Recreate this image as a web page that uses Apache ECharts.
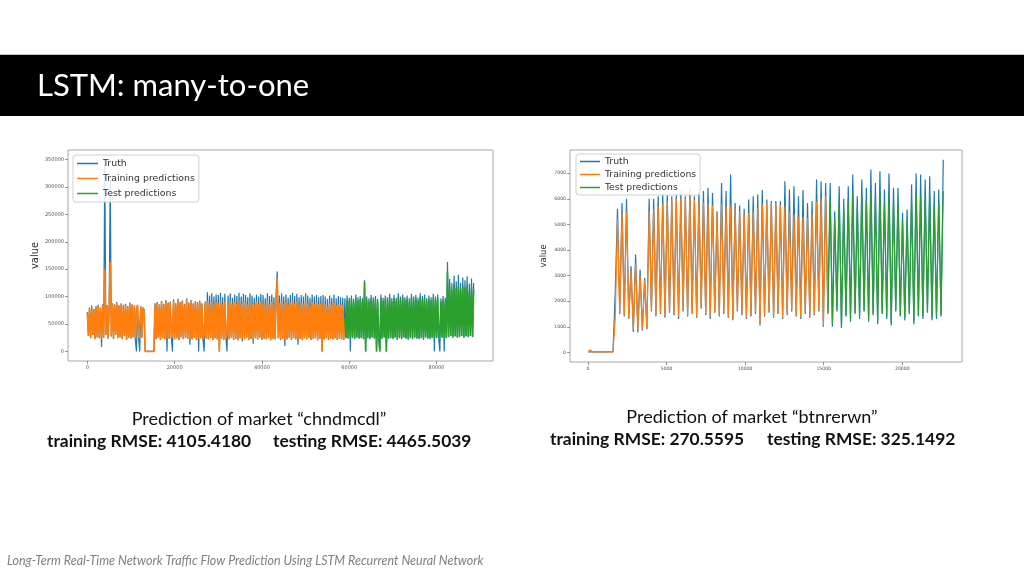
<!DOCTYPE html>
<html><head><meta charset="utf-8">
<script src="https://cdn.jsdelivr.net/npm/echarts@6/dist/echarts.min.js"></script>
<style>html,body{margin:0;padding:0;background:#fff}#c{width:1024px;height:576px}</style>
</head><body><div id="c"></div>
<script>
// ---------- data: market "chndmcdl" (values in thousands, one sample every 250 steps) ----------
const UNIT_LEFT = 1000;
const leftStep = 250;
const leftTruth = [
72,28,80,24,84,30,78,22,83,26,85,24,80,8,86,25,350,30,84,23,
82,320,27,88,22,86,30,90,24,84,26,88,22,85,28,87,21,83,25,89,
23,86,26,84,22,0,85,24,0,83,25,80,76,0,0,0,0,0,0,0,
0,0,88,22,90,25,86,21,92,24,87,22,94,0,89,23,91,25,0,95,
22,88,24,96,21,90,26,93,22,87,25,97,23,89,12,94,22,88,25,92,
21,90,0,93,24,88,22,0,91,23,108,22,102,25,106,21,100,24,104,22,
103,0,107,23,99,21,105,24,0,102,22,106,25,98,21,104,23,101,20,107,
24,100,18,105,22,103,25,99,21,106,23,102,14,98,24,104,22,100,25,105,
21,103,23,97,22,106,24,101,20,104,23,99,22,105,146,24,102,21,106,23,
100,10,104,22,98,25,103,21,107,24,101,22,105,12,99,23,103,21,100,24,
106,22,102,25,98,21,104,23,100,24,103,20,99,23,101,0,103,22,100,24,
96,21,102,23,98,22,104,24,97,21,101,23,99,22,98,21,97,24,102,23,
98,0,102,24,96,22,104,25,99,23,101,24,97,22,130,0,100,24,97,22,
103,25,99,23,101,0,96,24,0,104,22,98,25,102,0,99,23,105,24,97,
22,103,25,98,21,106,24,100,22,104,25,99,23,102,21,97,24,105,22,100,
25,103,23,98,22,106,24,101,21,104,25,97,23,102,22,99,24,105,0,100,
24,104,22,0,97,25,101,0,98,24,163,26,132,28,125,25,138,27,128,25,
140,26,125,28,135,25,130,27,137,26,124,28,133,26,125
];
const leftTrain = [
70,28,78,25,82,30,77,23,81,26,83,25,79,22,84,25,150,30,82,24,
80,163,28,86,23,84,30,88,25,83,26,86,23,84,28,85,22,82,25,87,
24,84,26,83,23,80,84,24,22,82,25,79,74,0,0,0,0,0,0,0,
0,0,86,23,88,25,85,22,90,24,86,23,92,23,87,23,89,25,30,93,
22,86,24,95,22,88,26,91,23,85,25,96,23,87,22,92,22,86,25,90,
22,88,23,91,24,86,22,30,89,23,92,22,87,25,90,22,86,24,91,22,
88,0,92,23,85,22,90,24,30,88,22,92,25,85,22,90,23,87,21,93,
24,86,22,91,22,88,25,85,22,92,23,87,22,84,24,90,22,86,25,91,
22,88,23,84,22,92,24,87,21,90,23,85,22,91,134,24,88,22,92,23,
86,22,90,22,85,25,89,22,93,24,87,22,91,22,85,23,89,22,86,24,
92,22,88,25,84,22,90,23,86,24,89,21,85,23,87,0,89,22,86,24,
83,22,88,23,85,22,90,24,84,22,87,23,85,22,84,22,60
];
const leftTestStart = 236;
const leftTest = [
60,25,94,24,
92,25,96,25,90,24,98,26,93,24,95,25,91,24,127,0,94,25,91,24,
97,26,93,24,95,0,90,25,0,98,24,92,26,96,0,93,24,99,25,91,
24,97,26,92,23,100,25,94,24,98,26,93,24,96,23,91,25,99,24,94,
26,97,24,92,24,100,25,95,23,98,26,91,24,96,24,93,25,99,26,94,
25,98,24,35,91,26,95,25,92,25,145,27,118,28,112,26,122,28,115,26,
120,27,112,28,119,26,116,28,121,27,110,28,118,27,112
];
const leftXTicks = [0,20000,40000,60000,80000];
const leftYTicks = [0,50000,100000,150000,200000,250000,300000,350000];

// ---------- data: market "btnrerwn" (one sample every 144 steps) ----------
const rightStep = 144;
const rightTruth = [
20,20,20,20,20,20,20,20,20,20,20,20,2300,
5610,1500,5840,1400,6000,1300,3360,800,3820,780,3230,850,2900,900,
6000,1600,6000,1400,6100,1500,6170,1350,6170,1550,6100,1450,6170,1300,6300,1600,
6100,1400,6430,1500,6100,1350,6260,1700,6300,1450,6430,1300,6230,1550,5510,1400,
6620,1500,6300,1350,6950,1250,5840,1600,5740,1450,5610,1300,5970,1400,6100,1500,
6170,1050,6340,1400,5970,1550,5910,1350,5910,1500,5910,1300,6690,1450,6360,1600,
6490,1400,6100,1300,6340,1500,5840,1350,5910,1450,6750,1600,6690,1000,6620,1500,
6620,1000,5510,1600,6490,950,6000,1400,6490,1200,6950,1500,6100,1300,6750,1600,
6430,1200,7140,1450,6620,1100,7080,1500,6360,1300,6990,1050,6430,1600,6430,1400,
5450,1250,5580,1500,6560,1100,6990,1400,6950,1300,6750,1550,6880,1250,6300,1300,
6360,1400,7530
];
const rightTrain = [
20,90,20,20,20,20,20,20,20,20,20,20,1300,
5200,1550,5450,1450,5500,1350,3200,900,3500,850,3000,900,2800,950,
5500,1650,5600,1500,5700,1550,5800,1400,5900,1600,5950,1500,6000,1400,6050,1650,
6000,1450,6100,1550,5950,1400,5900,1750,5850,1500,5800,1400,5750,1600,5400,1450,
5800,1550,5700,1400,5750,1300,5600,1650,5500,1500,5400,1350,5450,1450,5500,1550,
5650,1150,5800,1450,5850,1600,5850,1400,5800,1550,5750,1350,5700,1500,5500,1650,
5400,1450,5300,1350,5300,1550,5250,1400,5400,1500,5900,1650,6000,1050,6100,1550
];
const rightTestStart = 106;
const rightTest = [
1550,
6000,1100,5200,1650,5900,1050,5600,1450,5900,1300,6200,1550,5700,1400,6100,1650,
5900,1300,6300,1500,6000,1200,6300,1550,5800,1400,6200,1150,5900,1650,5800,1450,
5100,1350,5200,1550,5900,1200,6200,1450,6100,1400,6000,1600,6100,1350,5700,1400,
5800,1450,6300
];
const rightXTicks = [0,5000,10000,15000,20000];
const rightYTicks = [0,1000,2000,3000,4000,5000,6000,7000];

const seriesNames = ['Truth','Training predictions','Test predictions'];

// ---------- chart ----------
const BLUE = '#1f77b4', ORANGE = '#ff7f0e', GREEN = '#2ca02c';
const toPts = (arr, start, step, unit) => arr.map((v, i) => [(start + i) * step, v * unit]);

function lineSeries(name, color, data, idx, z, w) {
  return { type: 'line', name, data, xAxisIndex: idx, yAxisIndex: idx, symbol: 'none',
    showSymbol: false, animation: false, z, lineStyle: { color, width: w }, itemStyle: { color } };
}
function mkX(idx, min, max, ticks, fs) {
  return { type: 'value', gridIndex: idx, min, max, splitLine: { show: false },
    axisLine: { show: false, onZero: false },
    axisTick: { show: true, length: 3, customValues: ticks, lineStyle: { color: '#777', width: 0.8 } },
    axisLabel: { customValues: ticks, fontSize: fs, color: '#555', margin: 4, fontFamily: 'DejaVu Sans', formatter: v => String(v) } };
}
function mkY(idx, min, max, ticks, fs, nameFs, gap) {
  return { type: 'value', gridIndex: idx, min, max, splitLine: { show: false },
    axisLine: { show: false, onZero: false },
    axisTick: { show: true, length: 3, customValues: ticks, lineStyle: { color: '#777', width: 0.8 } },
    axisLabel: { customValues: ticks, fontSize: fs, color: '#555', margin: 4, fontFamily: 'DejaVu Sans', formatter: v => String(v) },
    name: 'value', nameLocation: 'middle', nameRotate: 90, nameGap: gap, nameMoveOverlap: false,
    nameTextStyle: { fontSize: nameFs, color: '#333', fontFamily: 'DejaVu Sans' } };
}
function mkLegend(left, top, fs, lh, iw) {
  return { left, top, orient: 'vertical', data: seriesNames, icon: 'rect', itemWidth: iw, itemHeight: 1.5,
    itemGap: 0, backgroundColor: 'rgba(255,255,255,0.85)', borderColor: '#d0d0d0', borderWidth: 1,
    borderRadius: 3, padding: [1, 4, 1, 4], selectedMode: false,
    textStyle: { fontFamily: 'DejaVu Sans', fontSize: fs, color: '#333', lineHeight: lh } };
}

const chart = echarts.init(document.getElementById('c'), null, { renderer: 'canvas' });
chart.setOption({
  backgroundColor: '#fff',
  animation: false,
  grid: [
    { left: 68, top: 150, width: 425, height: 211, show: true, borderColor: '#a8a8a8', borderWidth: 1, backgroundColor: '#fff' },
    { left: 570, top: 150, width: 392, height: 212, show: true, borderColor: '#a8a8a8', borderWidth: 1, backgroundColor: '#fff' }
  ],
  xAxis: [mkX(0, -4425, 92925, leftXTicks, 5), mkX(1, -1150, 23800, rightXTicks, 4.6)],
  yAxis: [mkY(0, -17500, 367500, leftYTicks, 5, 9.9, 28), mkY(1, -377, 7907, rightYTicks, 4.6, 8.5, 22)],
  legend: [mkLegend(73, 155, 9.4, 15, 21), mkLegend(576, 154, 9.3, 13, 20)],
  series: [
    lineSeries(seriesNames[0], BLUE, toPts(leftTruth, 0, leftStep, UNIT_LEFT), 0, 2, 1.2),
    lineSeries(seriesNames[1], ORANGE, toPts(leftTrain, 0, leftStep, UNIT_LEFT), 0, 3, 1.6),
    lineSeries(seriesNames[2], GREEN, toPts(leftTest, leftTestStart, leftStep, UNIT_LEFT), 0, 4, 1.6),
    lineSeries(seriesNames[0], BLUE, toPts(rightTruth, 0, rightStep, 1), 1, 2, 1.2),
    lineSeries(seriesNames[1], ORANGE, toPts(rightTrain, 0, rightStep, 1), 1, 3, 1.2),
    lineSeries(seriesNames[2], GREEN, toPts(rightTest, rightTestStart, rightStep, 1), 1, 4, 1.2)
  ],
  graphic: [
    { type: 'line', shape: { x1: 0, y1: 54.5, x2: 1024, y2: 54.5 }, style: { stroke: '#c8c8c8', lineWidth: 1 } },
    { type: 'rect', shape: { x: 0, y: 55, width: 1024, height: 61 }, style: { fill: '#000' } },
    { type: 'text', x: 37, y: 86, style: { text: 'LSTM: many-to-one', fill: '#fff', font: '31px Lato', align: 'left', verticalAlign: 'middle' } },
    { type: 'text', x: 259, y: 419, style: { text: 'Prediction of market \u201cchndmcdl\u201d', fill: '#111', font: '18px Lato', align: 'center', verticalAlign: 'middle' } },
    { type: 'text', x: 47, y: 441, style: { text: 'training RMSE: 4105.4180', fill: '#111', font: 'bold 17.4px Lato', align: 'left', verticalAlign: 'middle' } },
    { type: 'text', x: 273, y: 441, style: { text: 'testing RMSE: 4465.5039', fill: '#111', font: 'bold 17.4px Lato', align: 'left', verticalAlign: 'middle' } },
    { type: 'text', x: 752, y: 417, style: { text: 'Prediction of market \u201cbtnrerwn\u201d', fill: '#111', font: '18px Lato', align: 'center', verticalAlign: 'middle' } },
    { type: 'text', x: 550, y: 439, style: { text: 'training RMSE: 270.5595', fill: '#111', font: 'bold 17.4px Lato', align: 'left', verticalAlign: 'middle' } },
    { type: 'text', x: 767, y: 439, style: { text: 'testing RMSE: 325.1492', fill: '#111', font: 'bold 17.4px Lato', align: 'left', verticalAlign: 'middle' } },
    { type: 'text', x: 7, y: 561, style: { text: 'Long-Term Real-Time Network Traffic Flow Prediction Using LSTM Recurrent Neural Network', fill: '#7f7f7f', font: 'italic 12.5px Lato', align: 'left', verticalAlign: 'middle' } }
  ]
});
</script></body></html>
